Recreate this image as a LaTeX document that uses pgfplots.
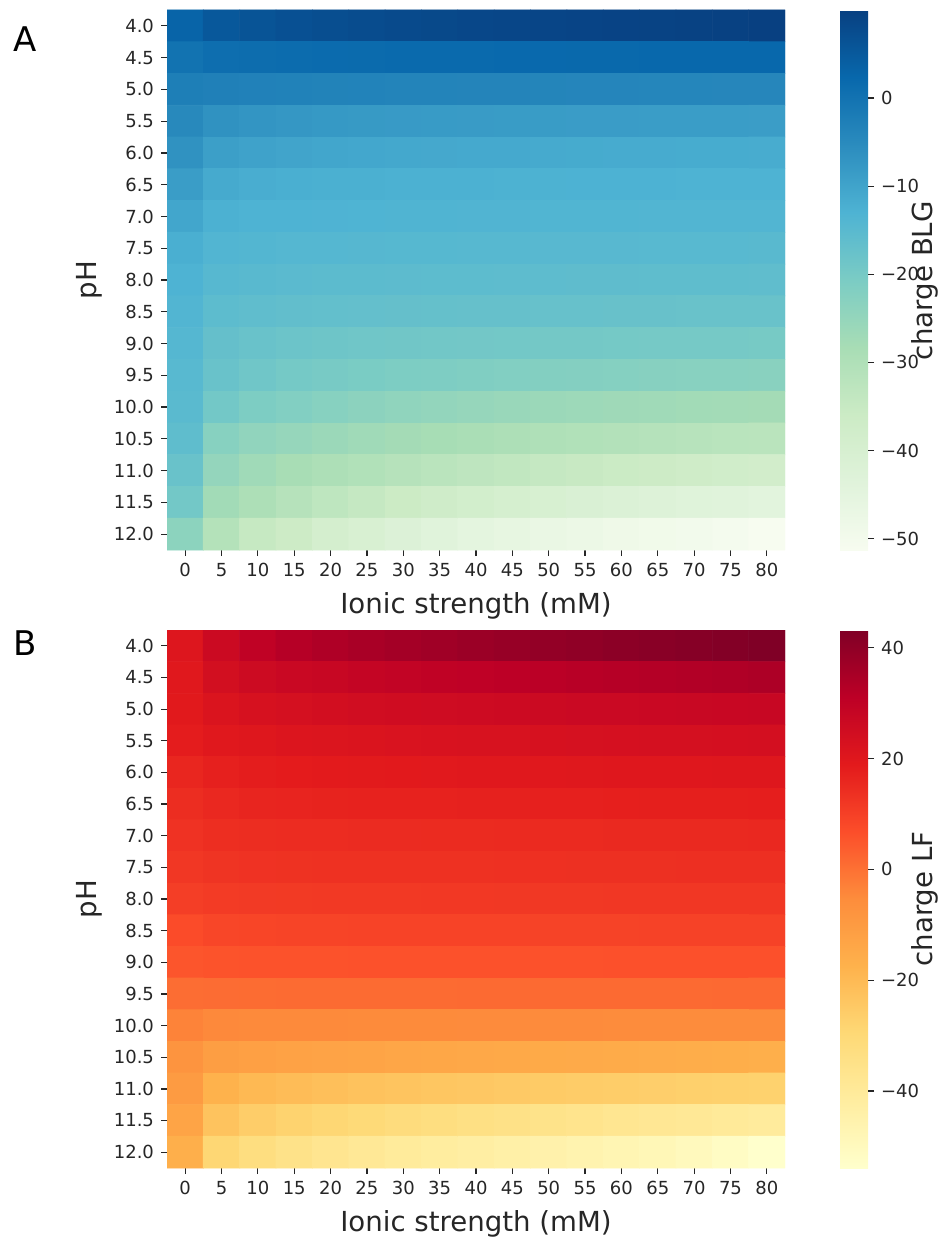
\documentclass[border=0pt]{standalone}
\usepackage{fontspec}
\setmainfont{DejaVu Sans}
\usepackage{pgfplots}
\usepackage{pgfplotstable}
\pgfplotsset{compat=1.18}
\definecolor{tickgray}{RGB}{38,38,38}

\pgfplotstableread[row sep=\\]{
x y c\\
0 0 3.1\\ 1 0 5.4\\ 2 0 6.2\\ 3 0 6.9\\ 4 0 7.4\\ 5 0 7.8\\ 6 0 8.1\\ 7 0 8.4\\ 8 0 8.6\\ 9 0 8.8\\ 10 0 9.0\\ 11 0 9.2\\ 12 0 9.4\\ 13 0 9.5\\ 14 0 9.7\\ 15 0 9.8\\ 16 0 10.0\\
0 1 0.1\\ 1 1 1.0\\ 2 1 1.3\\ 3 1 1.5\\ 4 1 1.7\\ 5 1 1.8\\ 6 1 1.9\\ 7 1 2.0\\ 8 1 2.0\\ 9 1 2.1\\ 10 1 2.1\\ 11 1 2.2\\ 12 1 2.2\\ 13 1 2.3\\ 14 1 2.3\\ 15 1 2.4\\ 16 1 2.4\\
0 2 -2.5\\ 1 2 -2.8\\ 2 2 -3.0\\ 3 2 -3.2\\ 4 2 -3.3\\ 5 2 -3.4\\ 6 2 -3.5\\ 7 2 -3.6\\ 8 2 -3.7\\ 9 2 -3.7\\ 10 2 -3.8\\ 11 2 -3.9\\ 12 2 -3.9\\ 13 2 -4.0\\ 14 2 -4.0\\ 15 2 -4.1\\ 16 2 -4.1\\
0 3 -4.6\\ 1 3 -6.4\\ 2 3 -7.1\\ 3 3 -7.5\\ 4 3 -7.8\\ 5 3 -8.0\\ 6 3 -8.1\\ 7 3 -8.2\\ 8 3 -8.3\\ 9 3 -8.4\\ 10 3 -8.4\\ 11 3 -8.5\\ 12 3 -8.5\\ 13 3 -8.6\\ 14 3 -8.6\\ 15 3 -8.6\\ 16 3 -8.7\\
0 4 -6.4\\ 1 4 -9.0\\ 2 4 -9.7\\ 3 4 -10.1\\ 4 4 -10.4\\ 5 4 -10.6\\ 6 4 -10.8\\ 7 4 -10.9\\ 8 4 -11.0\\ 9 4 -11.1\\ 10 4 -11.2\\ 11 4 -11.3\\ 12 4 -11.4\\ 13 4 -11.4\\ 14 4 -11.5\\ 15 4 -11.5\\ 16 4 -11.6\\
0 5 -8.6\\ 1 5 -11.2\\ 2 5 -11.8\\ 3 5 -12.1\\ 4 5 -12.3\\ 5 5 -12.4\\ 6 5 -12.5\\ 7 5 -12.6\\ 8 5 -12.6\\ 9 5 -12.7\\ 10 5 -12.7\\ 11 5 -12.8\\ 12 5 -12.8\\ 13 5 -12.8\\ 14 5 -12.9\\ 15 5 -12.9\\ 16 5 -12.9\\
0 6 -10.4\\ 1 6 -12.6\\ 2 6 -12.9\\ 3 6 -13.0\\ 4 6 -13.1\\ 5 6 -13.2\\ 6 6 -13.3\\ 7 6 -13.3\\ 8 6 -13.4\\ 9 6 -13.4\\ 10 6 -13.5\\ 11 6 -13.5\\ 12 6 -13.5\\ 13 6 -13.6\\ 14 6 -13.6\\ 15 6 -13.6\\ 16 6 -13.7\\
0 7 -12.1\\ 1 7 -13.6\\ 2 7 -13.9\\ 3 7 -14.1\\ 4 7 -14.2\\ 5 7 -14.3\\ 6 7 -14.4\\ 7 7 -14.4\\ 8 7 -14.5\\ 9 7 -14.5\\ 10 7 -14.6\\ 11 7 -14.6\\ 12 7 -14.6\\ 13 7 -14.7\\ 14 7 -14.7\\ 15 7 -14.7\\ 16 7 -14.8\\
0 8 -13.0\\ 1 8 -14.5\\ 2 8 -14.9\\ 3 8 -15.1\\ 4 8 -15.3\\ 5 8 -15.4\\ 6 8 -15.5\\ 7 8 -15.6\\ 8 8 -15.6\\ 9 8 -15.7\\ 10 8 -15.7\\ 11 8 -15.8\\ 12 8 -15.8\\ 13 8 -15.9\\ 14 8 -15.9\\ 15 8 -15.9\\ 16 8 -16.0\\
0 9 -13.7\\ 1 9 -15.6\\ 2 9 -16.0\\ 3 9 -16.3\\ 4 9 -16.5\\ 5 9 -16.7\\ 6 9 -16.8\\ 7 9 -16.9\\ 8 9 -17.0\\ 9 9 -17.1\\ 10 9 -17.2\\ 11 9 -17.3\\ 12 9 -17.4\\ 13 9 -17.4\\ 14 9 -17.5\\ 15 9 -17.5\\ 16 9 -17.6\\
0 10 -14.2\\ 1 10 -16.8\\ 2 10 -17.6\\ 3 10 -18.1\\ 4 10 -18.4\\ 5 10 -18.7\\ 6 10 -18.9\\ 7 10 -19.1\\ 8 10 -19.2\\ 9 10 -19.3\\ 10 10 -19.4\\ 11 10 -19.5\\ 12 10 -19.6\\ 13 10 -19.7\\ 14 10 -19.8\\ 15 10 -19.8\\ 16 10 -19.9\\
0 11 -14.7\\ 1 11 -17.6\\ 2 11 -18.8\\ 3 11 -19.6\\ 4 11 -20.1\\ 5 11 -20.5\\ 6 11 -20.9\\ 7 11 -21.2\\ 8 11 -21.5\\ 9 11 -21.8\\ 10 11 -22.0\\ 11 11 -22.2\\ 12 11 -22.4\\ 13 11 -22.6\\ 14 11 -22.8\\ 15 11 -22.9\\ 16 11 -23.0\\
0 12 -15.0\\ 1 12 -19.3\\ 2 12 -21.0\\ 3 12 -21.9\\ 4 12 -22.7\\ 5 12 -23.5\\ 6 12 -24.2\\ 7 12 -24.8\\ 8 12 -25.3\\ 9 12 -25.7\\ 10 12 -26.1\\ 11 12 -26.4\\ 12 12 -26.7\\ 13 12 -27.0\\ 14 12 -27.2\\ 15 12 -27.4\\ 16 12 -27.6\\
0 13 -15.9\\ 1 13 -22.7\\ 2 13 -24.4\\ 3 13 -25.3\\ 4 13 -26.1\\ 5 13 -26.9\\ 6 13 -27.6\\ 7 13 -28.2\\ 8 13 -28.8\\ 9 13 -29.3\\ 10 13 -29.8\\ 11 13 -30.3\\ 12 13 -30.7\\ 13 13 -31.1\\ 14 13 -31.5\\ 15 13 -31.9\\ 16 13 -32.2\\
0 14 -17.6\\ 1 14 -24.9\\ 2 14 -27.0\\ 3 14 -28.3\\ 4 14 -29.3\\ 5 14 -30.3\\ 6 14 -31.2\\ 7 14 -32.1\\ 8 14 -32.9\\ 9 14 -33.7\\ 10 14 -34.4\\ 11 14 -35.1\\ 12 14 -35.8\\ 13 14 -36.4\\ 14 14 -37.0\\ 15 14 -37.6\\ 16 14 -38.2\\
0 15 -19.3\\ 1 15 -27.3\\ 2 15 -29.3\\ 3 15 -31.3\\ 4 15 -33.0\\ 5 15 -34.5\\ 6 15 -35.9\\ 7 15 -37.2\\ 8 15 -38.4\\ 9 15 -39.4\\ 10 15 -40.3\\ 11 15 -41.1\\ 12 15 -41.9\\ 13 15 -42.6\\ 14 15 -43.2\\ 15 15 -43.8\\ 16 15 -44.3\\
0 16 -23.6\\ 1 16 -30.9\\ 2 16 -34.7\\ 3 16 -36.4\\ 4 16 -39.0\\ 5 16 -40.6\\ 6 16 -42.1\\ 7 16 -43.6\\ 8 16 -45.0\\ 9 16 -46.0\\ 10 16 -47.0\\ 11 16 -47.8\\ 12 16 -48.5\\ 13 16 -49.2\\ 14 16 -49.8\\ 15 16 -50.4\\ 16 16 -51.3\\
}\dataA

\pgfplotstableread[row sep=\\]{
x y c\\
0 0 21.0\\ 1 0 26.5\\ 2 0 30.0\\ 3 0 32.5\\ 4 0 33.9\\ 5 0 35.0\\ 6 0 36.0\\ 7 0 36.9\\ 8 0 37.8\\ 9 0 38.6\\ 10 0 39.4\\ 11 0 40.1\\ 12 0 40.8\\ 13 0 41.5\\ 14 0 42.1\\ 15 0 42.7\\ 16 0 43.2\\
0 1 20.0\\ 1 1 24.3\\ 2 1 26.2\\ 3 1 27.2\\ 4 1 28.0\\ 5 1 28.8\\ 6 1 29.4\\ 7 1 30.0\\ 8 1 30.6\\ 9 1 31.1\\ 10 1 31.6\\ 11 1 32.1\\ 12 1 32.6\\ 13 1 33.0\\ 14 1 33.4\\ 15 1 33.8\\ 16 1 34.2\\
0 2 19.5\\ 1 2 21.8\\ 2 2 23.0\\ 3 2 23.8\\ 4 2 24.4\\ 5 2 24.9\\ 6 2 25.3\\ 7 2 25.7\\ 8 2 26.0\\ 9 2 26.3\\ 10 2 26.6\\ 11 2 26.9\\ 12 2 27.1\\ 13 2 27.3\\ 14 2 27.5\\ 15 2 27.7\\ 16 2 27.9\\
0 3 18.5\\ 1 3 19.8\\ 2 3 20.6\\ 3 3 21.1\\ 4 3 21.5\\ 5 3 21.9\\ 6 3 22.2\\ 7 3 22.5\\ 8 3 22.7\\ 9 3 22.9\\ 10 3 23.1\\ 11 3 23.3\\ 12 3 23.5\\ 13 3 23.7\\ 14 3 23.8\\ 15 3 23.9\\ 16 3 24.0\\
0 4 16.2\\ 1 4 17.6\\ 2 4 18.3\\ 3 4 18.7\\ 4 4 19.0\\ 5 4 19.2\\ 6 4 19.4\\ 7 4 19.6\\ 8 4 19.8\\ 9 4 19.9\\ 10 4 20.0\\ 11 4 20.1\\ 12 4 20.2\\ 13 4 20.3\\ 14 4 20.4\\ 15 4 20.5\\ 16 4 20.6\\
0 5 14.5\\ 1 5 15.7\\ 2 5 16.3\\ 3 5 16.6\\ 4 5 16.8\\ 5 5 17.0\\ 6 5 17.1\\ 7 5 17.2\\ 8 5 17.3\\ 9 5 17.4\\ 10 5 17.5\\ 11 5 17.6\\ 12 5 17.7\\ 13 5 17.8\\ 14 5 17.9\\ 15 5 17.9\\ 16 5 18.0\\
0 6 13.3\\ 1 6 14.2\\ 2 6 14.5\\ 3 6 14.7\\ 4 6 14.8\\ 5 6 14.9\\ 6 6 15.0\\ 7 6 15.1\\ 8 6 15.1\\ 9 6 15.2\\ 10 6 15.3\\ 11 6 15.3\\ 12 6 15.4\\ 13 6 15.4\\ 14 6 15.5\\ 15 6 15.5\\ 16 6 15.6\\
0 7 12.2\\ 1 7 13.0\\ 2 7 13.3\\ 3 7 13.4\\ 4 7 13.5\\ 5 7 13.6\\ 6 7 13.6\\ 7 7 13.7\\ 8 7 13.7\\ 9 7 13.8\\ 10 7 13.8\\ 11 7 13.9\\ 12 7 13.9\\ 13 7 13.9\\ 14 7 14.0\\ 15 7 14.0\\ 16 7 14.0\\
0 8 10.5\\ 1 8 11.3\\ 2 8 11.5\\ 3 8 11.6\\ 4 8 11.7\\ 5 8 11.8\\ 6 8 11.8\\ 7 8 11.9\\ 8 8 11.9\\ 9 8 12.0\\ 10 8 12.0\\ 11 8 12.0\\ 12 8 12.1\\ 13 8 12.1\\ 14 8 12.1\\ 15 8 12.2\\ 16 8 12.2\\
0 9 7.5\\ 1 9 8.7\\ 2 9 9.0\\ 3 9 9.1\\ 4 9 9.2\\ 5 9 9.3\\ 6 9 9.3\\ 7 9 9.4\\ 8 9 9.4\\ 9 9 9.4\\ 10 9 9.5\\ 11 9 9.5\\ 12 9 9.5\\ 13 9 9.6\\ 14 9 9.6\\ 15 9 9.6\\ 16 9 9.6\\
0 10 5.4\\ 1 10 5.9\\ 2 10 6.0\\ 3 10 6.1\\ 4 10 6.1\\ 5 10 6.2\\ 6 10 6.2\\ 7 10 6.2\\ 8 10 6.3\\ 9 10 6.3\\ 10 10 6.3\\ 11 10 6.3\\ 12 10 6.4\\ 13 10 6.4\\ 14 10 6.4\\ 15 10 6.4\\ 16 10 6.4\\
0 11 0.8\\ 1 11 1.0\\ 2 11 1.1\\ 3 11 1.2\\ 4 11 1.2\\ 5 11 1.3\\ 6 11 1.3\\ 7 11 1.3\\ 8 11 1.4\\ 9 11 1.4\\ 10 11 1.4\\ 11 11 1.5\\ 12 11 1.5\\ 13 11 1.5\\ 14 11 1.5\\ 15 11 1.6\\ 16 11 1.6\\
0 12 -3.4\\ 1 12 -4.6\\ 2 12 -4.7\\ 3 12 -4.8\\ 4 12 -4.8\\ 5 12 -4.9\\ 6 12 -4.9\\ 7 12 -4.9\\ 8 12 -5.0\\ 9 12 -5.0\\ 10 12 -5.0\\ 11 12 -5.0\\ 12 12 -5.1\\ 13 12 -5.1\\ 14 12 -5.1\\ 15 12 -5.1\\ 16 12 -5.2\\
0 13 -7.5\\ 1 13 -11.0\\ 2 13 -11.6\\ 3 13 -12.1\\ 4 13 -12.6\\ 5 13 -13.0\\ 6 13 -13.4\\ 7 13 -13.8\\ 8 13 -14.1\\ 9 13 -14.4\\ 10 13 -14.7\\ 11 13 -15.0\\ 12 13 -15.3\\ 13 13 -15.6\\ 14 13 -15.9\\ 15 13 -16.1\\ 16 13 -16.4\\
0 14 -10.0\\ 1 14 -17.5\\ 2 14 -19.5\\ 3 14 -20.7\\ 4 14 -21.6\\ 5 14 -22.4\\ 6 14 -23.0\\ 7 14 -23.6\\ 8 14 -24.1\\ 9 14 -24.6\\ 10 14 -25.1\\ 11 14 -25.5\\ 12 14 -25.9\\ 13 14 -26.3\\ 14 14 -26.7\\ 15 14 -27.0\\ 16 14 -27.3\\
0 15 -12.8\\ 1 15 -22.8\\ 2 15 -25.9\\ 3 15 -27.6\\ 4 15 -29.0\\ 5 15 -30.3\\ 6 15 -31.5\\ 7 15 -32.6\\ 8 15 -33.6\\ 9 15 -34.6\\ 10 15 -35.5\\ 11 15 -36.4\\ 12 15 -37.3\\ 13 15 -38.2\\ 14 15 -39.0\\ 15 15 -39.8\\ 16 15 -40.5\\
0 16 -16.5\\ 1 16 -29.0\\ 2 16 -32.6\\ 3 16 -35.1\\ 4 16 -37.2\\ 5 16 -38.9\\ 6 16 -40.3\\ 7 16 -41.5\\ 8 16 -42.6\\ 9 16 -43.7\\ 10 16 -44.7\\ 11 16 -45.8\\ 12 16 -46.9\\ 13 16 -48.2\\ 14 16 -49.7\\ 15 16 -51.6\\ 16 16 -53.9\\
}\dataB

\pgfplotsset{
  heat/.style={
    scale only axis, width=309pt,
    xmin=-0.5, xmax=16.5, ymin=-0.5, ymax=16.5, y dir=reverse,
    enlargelimits=false,
    axis line style={draw=none},
    tick align=outside, major tick length=3pt,
    tick style={tickgray, line width=0.6pt},
    tick pos=left,
    xtick={0,1,2,3,4,5,6,7,8,9,10,11,12,13,14,15,16},
    xticklabels={0,5,10,15,20,25,30,35,40,45,50,55,60,65,70,75,80},
    ytick={0,1,2,3,4,5,6,7,8,9,10,11,12,13,14,15,16},
    yticklabels={4.0,4.5,5.0,5.5,6.0,6.5,7.0,7.5,8.0,8.5,9.0,9.5,10.0,10.5,11.0,11.5,12.0},
    ticklabel style={font=\fontsize{9}{10}\selectfont, text=tickgray},
    xlabel={Ionic strength (mM)}, ylabel={pH},
    label style={font=\fontsize{13.8}{16}\selectfont, text=tickgray},
    ylabel style={at={(axis description cs:-0.1133,0.5)}, anchor=base},
    colorbar,
  },
  cbar/.style={
    width=14pt,
    at={(parent axis.north east)}, anchor=north west, xshift=19pt,
    axis line style={draw=none},
    ytick pos=right, yticklabel pos=right,
    tick align=outside, major tick length=3pt,
    tick style={tickgray, line width=0.6pt},
    yticklabel style={font=\fontsize{9}{10}\selectfont, text=tickgray},
  },
}

\begin{document}
\begin{tikzpicture}
\path[use as bounding box] (0,0) rectangle (471.5pt,-620pt);

\begin{axis}[heat, height=270pt,
  at={(83.5pt,-5pt)}, anchor=north west,
  xlabel style={at={(axis description cs:0.5,-0.1167)}, anchor=base},
  colormap={gnbu}{rgb255=(247,252,240) rgb255=(224,243,219) rgb255=(204,235,197) rgb255=(168,221,181) rgb255=(123,204,196) rgb255=(78,179,211) rgb255=(43,140,190) rgb255=(8,104,172) rgb255=(8,64,129)},
  point meta min=-51.3, point meta max=10.0,
  colorbar style={cbar,
    ytick={-50,-40,-30,-20,-10,0},
    yticklabels={−50,−40,−30,−20,−10,0}},
]
\addplot[matrix plot*, mesh/cols=17, point meta=explicit] table[meta=c] {\dataA};
\end{axis}

\begin{axis}[heat, height=269pt,
  at={(83.5pt,-315pt)}, anchor=north west,
  xlabel style={at={(axis description cs:0.5,-0.1171)}, anchor=base},
  colormap={ylorrd}{rgb255=(255,255,204) rgb255=(255,237,160) rgb255=(254,217,118) rgb255=(254,178,76) rgb255=(253,141,60) rgb255=(252,78,42) rgb255=(227,26,28) rgb255=(189,0,38) rgb255=(128,0,38)},
  point meta min=-53.9, point meta max=43.2,
  colorbar style={cbar,
    ytick={-40,-20,0,20,40},
    yticklabels={−40,−20,0,20,40}},
]
\addplot[matrix plot*, mesh/cols=17, point meta=explicit] table[meta=c] {\dataB};
\end{axis}

\node[rotate=90, anchor=base, inner sep=0pt, font=\fontsize{13.8}{16}\selectfont, text=tickgray] at (466pt,-140.5pt) {charge BLG};
\node[rotate=90, anchor=base, inner sep=0pt, font=\fontsize{13.8}{16}\selectfont, text=tickgray] at (466pt,-449.5pt) {charge LF};
\node[anchor=base, inner sep=0pt, font=\fontsize{17}{20}\selectfont, text=black] at (12.5pt,-26pt) {A};
\node[anchor=base, inner sep=0pt, font=\fontsize{17}{20}\selectfont, text=black] at (12.5pt,-327.5pt) {B};
\end{tikzpicture}
\end{document}
